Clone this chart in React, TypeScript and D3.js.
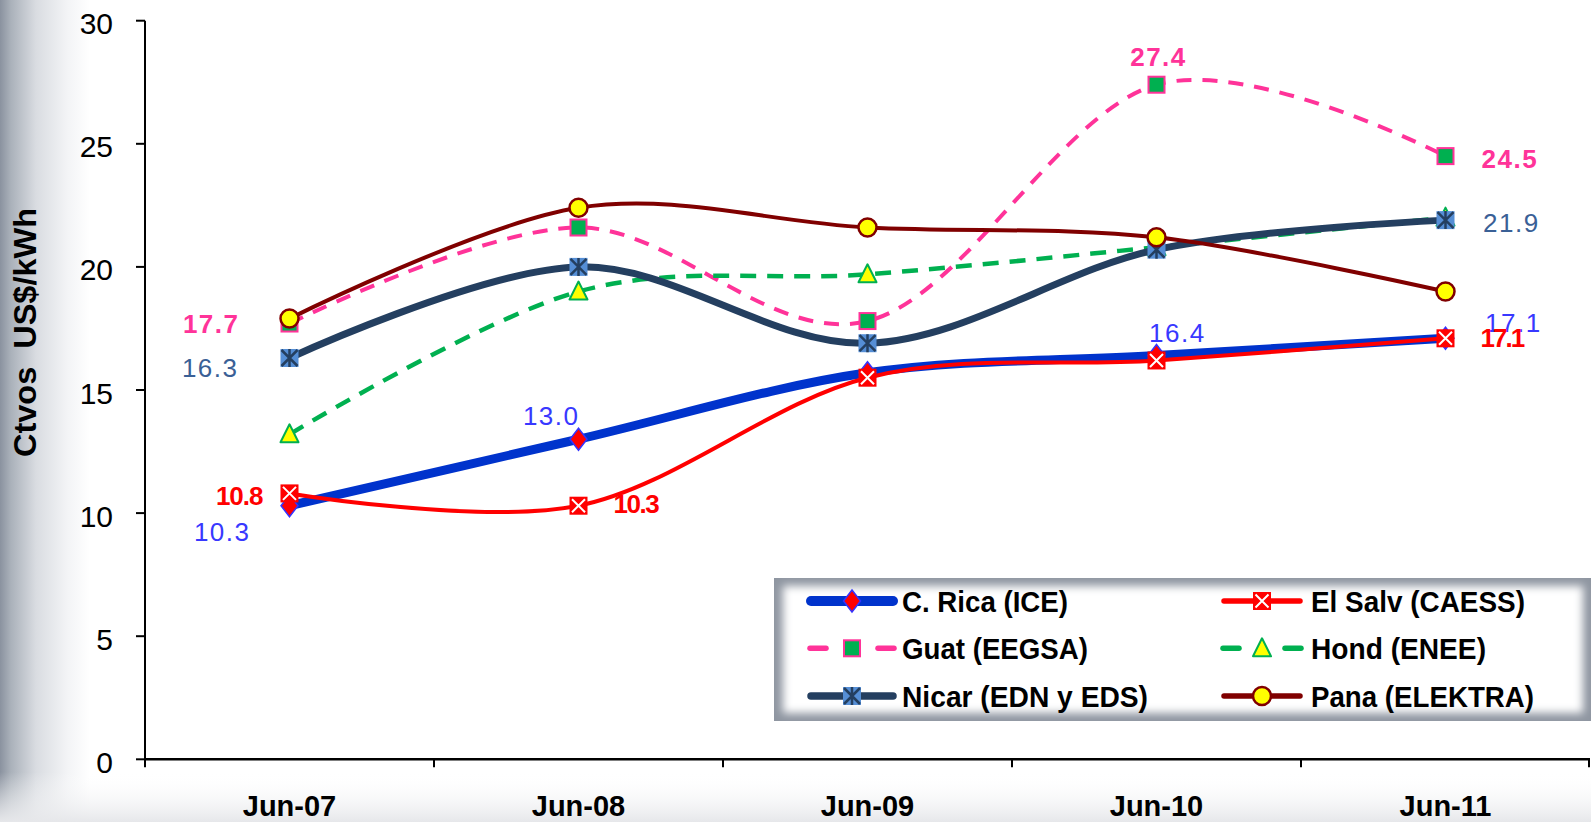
import React from "react";
import * as d3 from "d3";

const categories = ["Jun-07", "Jun-08", "Jun-09", "Jun-10", "Jun-11"];
const cRica = [10.3, 13.0, 15.7, 16.4, 17.1];
const elSalv = [10.8, 10.3, 15.5, 16.2, 17.1];
const guat = [17.7, 21.6, 17.8, 27.4, 24.5];
const hond = [13.2, 19.0, 19.7, 20.8, 22.0];
const nicar = [16.3, 20.0, 16.9, 20.7, 21.9];
const pana = [17.9, 22.4, 21.6, 21.2, 19.0];
const yTicks = [0, 5, 10, 15, 20, 25, 30];
const seriesNames = [
  "C. Rica (ICE)",
  "El Salv (CAESS)",
  "Guat (EEGSA)",
  "Hond (ENEE)",
  "Nicar (EDN y EDS)",
  "Pana (ELEKTRA)",
];
const yTitle = "Ctvos  US$/kWh";

type Marker = "diamond" | "xsquare" | "square" | "triangle" | "asterisk" | "circle";
interface Style {
  color: string;
  width: number;
  dash?: string;
  marker: Marker;
  fill: string;
  mstroke: string;
}

const styles: Style[] = [
  { color: "#0033cc", width: 9, marker: "diamond", fill: "#ff0000", mstroke: "#3333ff" },
  { color: "#ff0000", width: 4, marker: "xsquare", fill: "#ff0000", mstroke: "#ffffff" },
  { color: "#ff3399", width: 4, dash: "15,11", marker: "square", fill: "#00b050", mstroke: "#ff3399" },
  { color: "#00b050", width: 4.5, dash: "16,11", marker: "triangle", fill: "#ffff00", mstroke: "#00b050" },
  { color: "#243f60", width: 7, marker: "asterisk", fill: "#558ed5", mstroke: "#243f60" },
  { color: "#800000", width: 4, marker: "circle", fill: "#ffff00", mstroke: "#800000" },
];
// rendered widths of legend texts (style)
const legendTextWidths = [166, 214, 186, 175, 246, 223];

const seriesData = [cRica, elSalv, guat, hond, nicar, pana];

interface LabelSpec {
  s: number;
  i: number;
  dx: number;
  dy: number;
  anchor: "start" | "middle" | "end";
  color: string;
  bold: boolean;
  ls: number;
}
const BLUE_LBL = "#3838ff";
const NIC_LBL = "#3a6096";
const labelSpecs: LabelSpec[] = [
  { s: 2, i: 0, dx: -50, dy: 0, anchor: "end", color: "#ff3399", bold: true, ls: 1.5 },
  { s: 4, i: 0, dx: -51, dy: 10, anchor: "end", color: NIC_LBL, bold: false, ls: 1.5 },
  { s: 1, i: 0, dx: -27, dy: 3, anchor: "end", color: "#ff0000", bold: true, ls: -1 },
  { s: 0, i: 0, dx: -39, dy: 26, anchor: "end", color: BLUE_LBL, bold: false, ls: 1.5 },
  { s: 0, i: 1, dx: 1, dy: -23.5, anchor: "end", color: BLUE_LBL, bold: false, ls: 1.5 },
  { s: 1, i: 1, dx: 35, dy: -2, anchor: "start", color: "#ff0000", bold: true, ls: -1.5 },
  { s: 2, i: 3, dx: 2, dy: -28, anchor: "middle", color: "#ff3399", bold: true, ls: 1.5 },
  { s: 2, i: 4, dx: 36, dy: 3, anchor: "start", color: "#ff3399", bold: true, ls: 1.5 },
  { s: 4, i: 4, dx: 37.5, dy: 3, anchor: "start", color: NIC_LBL, bold: false, ls: 1.5 },
  { s: 0, i: 3, dx: -7.5, dy: -22.5, anchor: "start", color: BLUE_LBL, bold: false, ls: 1.5 },
  { s: 0, i: 4, dx: 39.5, dy: -15, anchor: "start", color: BLUE_LBL, bold: false, ls: 1.5 },
  { s: 1, i: 4, dx: 35, dy: 0, anchor: "start", color: "#ff0000", bold: true, ls: -2 },
];

const W = 1591;
const H = 822;
const FONT = "'Liberation Sans', Arial, Helvetica, sans-serif";

const x = d3.scaleBand<string>().domain(categories).range([145, 1590]);
const y = d3.scaleLinear().domain([0, 30]).range([759.3, 20.7]);
const cx = (i: number) => (x(categories[i]) as number) + x.bandwidth() / 2;

const lineGen = d3
  .line<number>()
  .x((_, i) => cx(i))
  .y((d) => y(d))
  .curve(d3.curveCatmullRom.alpha(0));

function renderMarker(st: Style, px: number, py: number, key: string, h = 9) {
  switch (st.marker) {
    case "diamond":
      return (
        <path
          key={key}
          d={`M${px},${py - h - 2}L${px + h - 0.5},${py}L${px},${py + h + 2}L${px - h + 0.5},${py}Z`}
          fill={st.fill}
          stroke={st.mstroke}
          strokeWidth={1.5}
        />
      );
    case "xsquare":
      return (
        <g key={key}>
          <rect x={px - h} y={py - h} width={2 * h} height={2 * h} fill={st.fill} />
          <path
            d={`M${px - h + 2.5},${py - h + 2.5}L${px + h - 2.5},${py + h - 2.5}M${px + h - 2.5},${py - h + 2.5}L${px - h + 2.5},${py + h - 2.5}`}
            stroke={st.mstroke}
            strokeWidth={2}
          />
        </g>
      );
    case "square":
      return (
        <rect
          key={key}
          x={px - h + 1}
          y={py - h + 1}
          width={2 * h - 2}
          height={2 * h - 2}
          fill={st.fill}
          stroke={st.mstroke}
          strokeWidth={2}
        />
      );
    case "triangle":
      return (
        <path
          key={key}
          d={`M${px},${py - h - 1}L${px + h},${py + h - 1}L${px - h},${py + h - 1}Z`}
          fill={st.fill}
          stroke={st.mstroke}
          strokeWidth={2}
          strokeLinejoin="round"
        />
      );
    case "asterisk":
      return (
        <g key={key}>
          <rect x={px - h} y={py - h} width={2 * h} height={2 * h} fill={st.fill} />
          <path
            d={`M${px},${py - h}L${px},${py + h}M${px - h + 1},${py - h + 1}L${px + h - 1},${py + h - 1}M${px + h - 1},${py - h + 1}L${px - h + 1},${py + h - 1}`}
            stroke={st.mstroke}
            strokeWidth={2.5}
          />
        </g>
      );
    case "circle":
      return <circle key={key} cx={px} cy={py} r={h} fill={st.fill} stroke={st.mstroke} strokeWidth={2.5} />;
  }
}

const fmt = d3.format(".1f");

const legendRows = [601, 648.3, 696];
const legendCols = [
  { x0: 808, x1: 896, tx: 902 },
  { x0: 1221, x1: 1303, tx: 1311 },
];

export default function App() {
  return (
    <svg
      width={W}
      height={H}
      viewBox={`0 0 ${W} ${H}`}
      style={{ position: "fixed", left: 0, top: 0, display: "block", background: "#fff" }}
      fontFamily={FONT}
    >
      <defs>
        <linearGradient id="leftBg" x1="0" x2="1" y1="0" y2="0">
          <stop offset="0" stopColor="#8a929f" />
          <stop offset="0.12" stopColor="#aab1ba" />
          <stop offset="0.4" stopColor="#d9dce1" />
          <stop offset="0.75" stopColor="#f3f4f6" />
          <stop offset="1" stopColor="#ffffff" />
        </linearGradient>
        <linearGradient id="botBg" x1="0" x2="0" y1="0" y2="1">
          <stop offset="0" stopColor="#ffffff" stopOpacity={0} />
          <stop offset="1" stopColor="#e6e7ea" stopOpacity={1} />
        </linearGradient>
        <clipPath id="legClip">
          <rect x={774} y={578} width={817} height={143} />
        </clipPath>
        <filter id="legBlur" x="-10%" y="-20%" width="120%" height="140%">
          <feGaussianBlur stdDeviation={4} />
        </filter>
      </defs>

      <rect x={0} y={0} width={W} height={H} fill="#fff" />
      <rect x={0} y={0} width={90} height={H} fill="url(#leftBg)" />
      <rect x={0} y={772} width={W} height={50} fill="url(#botBg)" />

      {/* Y axis */}
      <line x1={145} x2={145} y1={y(30)} y2={y(0)} stroke="#000" strokeWidth={2} />
      {yTicks.map((t) => (
        <g key={"yt" + t}>
          <line x1={136} x2={145} y1={y(t)} y2={y(t)} stroke="#000" strokeWidth={2} />
          <text
            x={113}
            y={y(t) + 3}
            textAnchor="end"
            dominantBaseline="central"
            fontSize={30}
            fill="#000"
          >
            {t}
          </text>
        </g>
      ))}

      {/* X axis */}
      <line x1={145} x2={1590} y1={y(0)} y2={y(0)} stroke="#000" strokeWidth={2.5} />
      {categories.map((c, i) => (
        <g key={"xt" + c}>
          <line x1={x(c) as number} x2={x(c) as number} y1={y(0)} y2={y(0) + 8} stroke="#000" strokeWidth={2} />
          <text x={cx(i)} y={816} textAnchor="middle" fontSize={29} fontWeight="bold" fill="#000">
            {c}
          </text>
        </g>
      ))}
      <line x1={1589} x2={1589} y1={y(0)} y2={y(0) + 8} stroke="#000" strokeWidth={2} />

      {/* Y title */}
      <text
        transform={`translate(36,332.5) rotate(-90)`}
        textAnchor="middle"
        fontSize={31}
        fontWeight="bold"
        fill="#000"
        textLength={249}
        lengthAdjust="spacingAndGlyphs"
        style={{ whiteSpace: "pre" }}
      >
        {yTitle}
      </text>

      {/* series */}
      {seriesData.map((vals, s) => {
        const st = styles[s];
        return (
          <g key={"s" + s}>
            <path
              d={lineGen(vals) || ""}
              fill="none"
              stroke={st.color}
              strokeWidth={st.width}
              strokeDasharray={st.dash}
              strokeLinecap={st.dash ? "butt" : "round"}
              strokeLinejoin="round"
            />
            {vals.map((v, i) => renderMarker(st, cx(i), y(v), `m${s}-${i}`))}
          </g>
        );
      })}

      {/* data labels */}
      {labelSpecs.map((l, k) => {
        const v = seriesData[l.s][l.i];
        return (
          <text
            key={"lbl" + k}
            x={cx(l.i) + l.dx}
            y={y(v) + l.dy}
            textAnchor={l.anchor}
            dominantBaseline="central"
            fontSize={26}
            fontWeight={l.bold ? "bold" : "normal"}
            letterSpacing={l.ls}
            fill={l.color}
          >
            {fmt(v)}
          </text>
        );
      })}

      {/* legend */}
      <g clipPath="url(#legClip)">
        <rect x={774} y={578} width={817} height={143} fill="#8f96a1" />
        <rect x={783} y={586} width={800} height={127} fill="#ffffff" filter="url(#legBlur)" />
      </g>
      {seriesNames.map((name, s) => {
        const row = Math.floor(s / 2);
        const col = s % 2;
        const st = styles[s];
        const ly = legendRows[row];
        const { x0, x1, tx } = legendCols[col];
        const mx = (x0 + x1) / 2;
        const lw = s === 0 ? 10 : s === 4 ? 7.5 : 5.5;
        return (
          <g key={"leg" + s}>
            {st.dash ? (
              <>
                <line x1={x0 + 2} x2={x0 + 18} y1={ly} y2={ly} stroke={st.color} strokeWidth={lw} strokeLinecap="round" />
                <line x1={x1 - 18} x2={x1 - 2} y1={ly} y2={ly} stroke={st.color} strokeWidth={lw} strokeLinecap="round" />
              </>
            ) : (
              <line x1={x0 + 3} x2={x1 - 3} y1={ly} y2={ly} stroke={st.color} strokeWidth={lw} strokeLinecap="round" />
            )}
            {renderMarker(st, mx, ly, "lm" + s, 9)}
            <text
              x={tx}
              y={ly + 10.5}
              fontSize={29}
              fontWeight="bold"
              fill="#000"
              textLength={legendTextWidths[s]}
              lengthAdjust="spacingAndGlyphs"
            >
              {name}
            </text>
          </g>
        );
      })}
    </svg>
  );
}
